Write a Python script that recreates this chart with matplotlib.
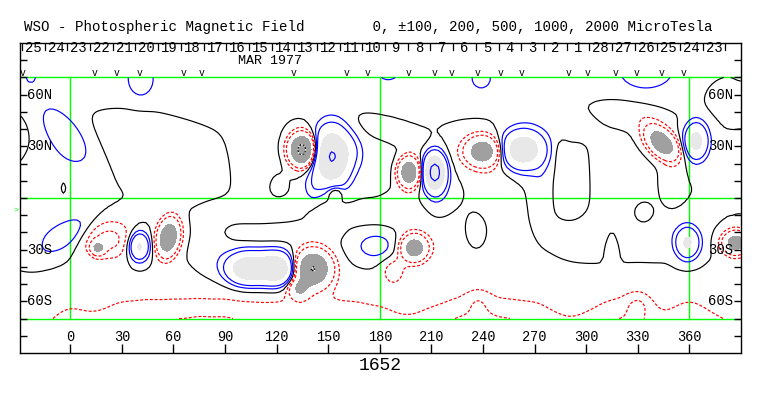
import numpy as np
import matplotlib
matplotlib.use("Agg")
import matplotlib.pyplot as plt

W, H = 763, 396

# active-region field: centre lon/lat (deg), peak (microTesla),
# widths along / across the axis (deg), tilt of the axis (deg)
spot_lon  = [135, 152, 141, 163, 154, 103, 120, 141, 133, 178, 197, 212, 240, 263, 200, 188,
             344, 364, 359, 387, -3, -2, 16, 22, 40, 57]
spot_lat  = [28, 24, 6, 28, 3, -41, -41, -41, -53, -28, 15, 15, 27, 28, -29, -42,
             32, 33, -26, -26, 37, -21, -29, -24, -28, -23]
spot_amp  = [-1200, 1030, 120, 100, -220, 850, 900, -1020, -450, 170, -900, 1250, -750, 800, -750, -150,
             -850, 650, 560, -750, 170, 160, -560, -250, 600, -950]
spot_wx   = [5, 7, 4, 5, 3, 8, 7, 7, 4, 9, 4, 4, 6.5, 8, 5, 5,
             7.5, 4.5, 4.5, 5, 15, 13, 2.5, 11, 4, 4]
spot_wy   = [6, 11, 6, 6, 3, 6, 6, 7, 4, 6, 5.5, 7, 5.5, 7, 5, 6,
             4.5, 7, 6, 4.5, 7, 5, 2.5, 8, 5.5, 7]
spot_tilt = [0, 0, 0, 0, 0, 0, 0, 0, 0, 0, 0, 0, 0, 0, 0, 0,
             -45, 0, 0, 0, -50, 35, 0, 0, 0, -10]

# weak background patches that shape the zero line
bg_lon  = [-23, 41, 185, 239, 335, 390, 272, 385,
           -32, -8, -4, 50, 75, 110, 112, 119, 178, 188, 250, 268,
           293, 285, 315, 292, 325, 349, 235, 215, 333, 315, 274,
           82, 110, 115, 150, 170, 192, 236, 232, 318, -10, 330, 237]
bg_lat  = [70, 66, 72, 68, 70, 72, 74, 62,
           36, 15, 6, 27, 8, 22, 8, 7, 20, 38, 5, 30,
           9, 26, 10, 42, 49, 10, 27, 3, -9, -28, 5,
           -25, -7, -20, -8, -9, -6, -21, -25, -21, -21, -62, -60]
bg_amp  = [60, 120, 70, 90, 90, 70, -110, -120,
           -60, 50, -80, -80, -45, 50, 60, -100, 50, -70, -60, 50,
           -110, -60, 70, 50, -80, -60, -60, 60, -90, -125, 60,
           70, 70, -80, -60, -60, -60, 110, -60, 60, 50, -110, -80]
bg_wx   = [2.5, 5, 4, 4, 10, 3, 4, 10,
           5, 12, 1.2, 23, 10, 9, 10, 5, 10, 14, 8, 10,
           7, 3, 14, 8, 15, 4, 12, 6, 3.5, 2.5, 4,
           7, 16, 20, 5, 20, 6, 5, 25, 28, 16, 5, 5]
bg_wy   = [3, 6, 3, 4, 6, 3, 4, 8,
           8, 16, 2.5, 11, 7, 18, 9, 6.5, 9, 4, 12, 14,
           13, 6, 14, 6, 5, 8, 9, 10, 4, 7, 14,
           14, 5, 3.5, 8, 4, 6, 7, 10, 8, 8, 5, 5]
bg_tilt = [0, 0, 0, 0, 0, 0, 0, 0,
           0, 0, 0, -25, 0, 0, 0, 0, 0, -20, 0, 0,
           0, 0, 0, 0, -10, 0, 0, 0, 0, 0, 0,
           0, 0, 0, 0, 0, 0, 0, 0, 0, 0, 0, 0]

# polar fields: positive north (lat 82), negative south (lat -80)
npole_lon = [-30, 0, 30, 60, 90, 120, 150, 180, 210, 240, 270, 300, 330, 360, 390]
npole_amp = [70, 70, 70, 70, 70, 70, 70, 70, 70, 70, 70, 70, 70, 70, 70]
spole_lon = [-30, -15, 0, 15, 30, 45, 60, 75, 90, 105, 120, 135, 150, 165, 180,
             195, 210, 225, 240, 255, 270, 285, 300, 315, 330, 345, 360, 375, 390]
spole_amp = [-70, -70, -132, -99, -163, -178, -178, -192, -192, -163, -163, -175, -175, -163, -132,
             -91, -123, -190, -210, -180, -163, -91, -99, -180, -190, -91, -178, -91, -84]

# Carrington day labels along the top and observation marks
day_labels = [25, 24, 23, 22, 21, 20, 19, 18, 17, 16, 15, 14, 13, 12, 11, 10,
              9, 8, 7, 6, 5, 4, 3, 2, 1, 28, 27, 26, 25, 24, 23]
obs_lon = [-28, 14, 27, 40.5, 66, 76.5, 130, 160.5, 173, 196.5, 212, 222, 237,
           250.5, 262.5, 290, 301, 317, 329.5, 344, 356.5]
lon_ticks = list(range(0, 361, 30))
lat_labels = {60: "60N", 30: "30N", -30: "30S", -60: "60S"}


def gauss(lon, lat, x0, y0, a, sx, sy, t):
    th = np.radians(t)
    dx = lon - x0
    dy = lat - y0
    u = dx * np.cos(th) + dy * np.sin(th)
    v = -dx * np.sin(th) + dy * np.cos(th)
    return a * np.exp(-0.5 * (u / sx) ** 2 - 0.5 * (v / sy) ** 2)


lon = np.arange(-30, 392, 2.0)
lat = np.arange(-70, 70.5, 2.0)
LON, LAT = np.meshgrid(lon, lat)
B = np.zeros_like(LON)
for p in zip(spot_lon, spot_lat, spot_amp, spot_wx, spot_wy, spot_tilt):
    B += gauss(LON, LAT, *p)
for p in zip(bg_lon, bg_lat, bg_amp, bg_wx, bg_wy, bg_tilt):
    B += gauss(LON, LAT, *p)
for x0, a in zip(npole_lon, npole_amp):
    B += gauss(LON, LAT, x0, 82, a, 15, 16, 0)
for x0, a in zip(spole_lon, spole_amp):
    B += gauss(LON, LAT, x0, -80, a, 8, 16, 0)

fig = plt.figure(figsize=(W / 100, H / 100), dpi=100)
ax = fig.add_axes([20 / W, (H - 353) / H, 721 / W, 310 / H])
ax.set_xlim(-29.25, 390.1)
ax.set_ylim(-90, 90)
for s in ax.spines.values():
    s.set_linewidth(1.0)

green = "#00ff00"
ax.axhline(70, color=green, lw=1, zorder=1)
ax.axhline(0, color=green, lw=1, zorder=1)
ax.axhline(-70, color=green, lw=1, zorder=1)
for x in [0, 180, 360]:
    ax.plot([x, x], [-70, 70], color=green, lw=1, zorder=1)

lw = 0.85
ax.contourf(LON, LAT, B, levels=[500, 1e6], colors=["#e8e8e8"], zorder=2)
ax.contourf(LON, LAT, B, levels=[-1e6, -500], colors=["#a0a0a0"], zorder=2)
ax.contour(LON, LAT, B, levels=[0], colors="black", linewidths=lw, zorder=3)
ax.contour(LON, LAT, B, levels=[100, 200, 1000, 2000], colors="#0000ff", linewidths=lw, zorder=3)
neg = ax.contour(LON, LAT, B, levels=[-200, -100], colors="#ff0000", linewidths=lw, zorder=3)
neg.set_linestyle((0, (2.5, 1.6)))
ax.contour(LON, LAT, B, levels=[-2000, -1000], colors="white", linewidths=lw, zorder=3)
strong = ax.contour(LON, LAT, B, levels=[-2000, -1000], colors="black", linewidths=lw, zorder=4)
strong.set_linestyle((0, (1.5, 1.5)))

font = "Liberation Mono"
ax.set_xticks(lon_ticks)
ax.set_xticklabels([])
ax.set_yticks(range(-80, 81, 10))
ax.set_yticklabels([])
ax.tick_params(axis="x", direction="in", length=6.5, width=1, top=False)
ax.tick_params(axis="y", direction="in", length=5, width=1, right=True)
for x in lon_ticks:
    ax.text(x, -80.8, str(x), ha="center", va="center", family=font, fontsize=9.8)
for y, s in lat_labels.items():
    ax.text(-25.2, y, s, ha="left", va="center", family=font, fontsize=10)
    ax.text(385.4, y, s, ha="right", va="center", family=font, fontsize=10)

# Carrington day strip along the top
step = 360 / 27.2753
first = -28.1
for i in range(len(day_labels) + 1):
    x = first + i * step
    ax.plot([x, x], [89.5, 86.2], color="black", lw=0.9)
for i, d in enumerate(day_labels):
    ax.text(first + (i + 0.5) * step, 86.9, str(d), ha="center", va="center",
            family=font, fontsize=10)
ax.text(116.4, 79.4, "MAR 1977", ha="center", va="center", family=font, fontsize=9.6)
for x in obs_lon:
    ax.text(x, 70.9, "v", ha="center", va="baseline", family=font, fontsize=7)
ax.text(-31.5, -7, ">", ha="center", va="center", color=green, fontsize=6,
        family=font, clip_on=False)

fig.text(24 / W, 1 - 27 / H,
         "WSO - Photospheric Magnetic Field        0, \u00b1100, 200, 500, 1000, 2000 MicroTesla",
         ha="left", va="center", family=font, fontsize=10.2)
fig.text(380.5 / W, 1 - 366 / H, "1652", ha="center", va="center", family=font, fontsize=13)

fig.savefig("out.png", dpi=100)
